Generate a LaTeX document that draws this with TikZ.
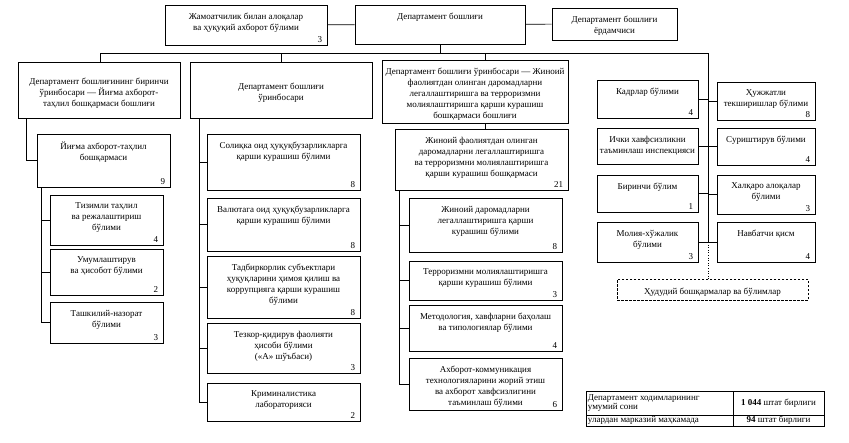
\documentclass[tikz,border=0pt]{standalone}
\usepackage{fontspec}
\setmainfont{Liberation Serif}
\usetikzlibrary{fit}

\begin{document}
\begin{tikzpicture}[x=1pt, y=-1pt, font=\fontsize{9}{11}\selectfont,
            box/.style={draw, line width=0.7pt, inner sep=0pt, align=center},
            unit/.style 2 args={box,
                label={[anchor=north, align=center, inner sep=0pt, yshift=-8pt]north:{#1}},
                label={[anchor=south east, inner xsep=5pt, inner ysep=3pt]south east:{#2}}},
            mid/.style={box, label={[align=center, inner sep=0pt, yshift=-3pt]center:{#1}}},
            link/.style={line width=0.6pt},
            region/.style={draw, line width=0.7pt, dash pattern=on 2.5pt off 1.5pt, inner sep=0pt},
            cell/.style={draw, line width=0.6pt, inner sep=0pt}
        ]
            \useasboundingbox (0,0) rectangle (849,442);

            % Top row
            \node[unit={Жамоатчилик билан алоқалар\\ва ҳуқуқий ахборот бўлими}{3}, fit={(165,5) (327,45)}] (pr) {};
            \node[unit={Департамент бошлиғи}{}, fit={(355,5) (525,44)}] (head) {};
            \node[unit={Департамент бошлиғи\\ёрдамчиси}{}, fit={(552,8) (677,40)}] (asst) {};

            % Deputies
            \node[mid={Департамент бошлиғининг биринчи\\ўринбосари — Йиғма ахборот-\\таҳлил бошқармаси бошлиғи}, fit={(18,62) (180,118)}] (dep1) {};
            \node[mid={Департамент бошлиғи\\ўринбосари}, fit={(190,62) (372,118)}] (dep2) {};
            \node[mid={Департамент бошлиғи ўринбосари — Жиноий\\фаолиятдан олинган даромадларни\\легаллаштиришга ва терроризмни\\молиялаштиришга қарши курашиш\\бошқармаси бошлиғи}, fit={(382,60) (568,123)}] (dep3) {};

            % First deputy units
            \node[unit={Йиғма ахборот-таҳлил\\бошқармаси}{9}, fit={(37,134) (170,187)}] (yigma) {};
            \node[unit={Тизимли таҳлил\\ва режалаштириш\\бўлими}{4}, fit={(50,195) (163,245)}] (tizim) {};
            \node[unit={Умумлаштирув\\ва ҳисобот бўлими}{2}, fit={(50,249) (163,295)}] (umum) {};
            \node[unit={Ташкилий-назорат\\бўлими}{3}, fit={(50,302) (163,343)}] (tash) {};

            % Second deputy units
            \node[unit={Солиқка оид ҳуқуқбузарликларга\\қарши курашиш бўлими}{8}, fit={(207,134) (360,190)}] (soliq) {};
            \node[unit={Валютага оид ҳуқуқбузарликларга\\қарши курашиш бўлими}{8}, fit={(207,198) (360,251)}] (valyuta) {};
            \node[unit={Тадбиркорлик субъектлари\\ҳуқуқларини ҳимоя қилиш ва\\коррупцияга қарши курашиш\\бўлими}{8}, fit={(207,256) (360,318)}] (tadbir) {};
            \node[unit={Тезкор-қидирув фаолияти\\ҳисоби бўлими\\(«А» шўъбаси)}{3}, fit={(207,323) (360,373)}] (tezkor) {};
            \node[unit={Криминалистика\\лабораторияси}{2}, fit={(207,383) (360,421)}] (krim) {};

            % Third deputy units
            \node[unit={Жиноий фаолиятдан олинган\\даромадларни легаллаштиришга\\ва терроризмни молиялаштиришга\\қарши курашиш бошқармаси}{21}, fit={(395,129) (568,190)}] (jinoiy) {};
            \node[unit={Жиноий даромадларни\\легаллаштиришга қарши\\курашиш бўлими}{8}, fit={(409,198) (562,252)}] (jdar) {};
            \node[unit={Терроризмни молиялаштиришга\\қарши курашиш бўлими}{3}, fit={(409,261) (562,300)}] (terror) {};
            \node[unit={Методология, хавфларни баҳолаш\\ва типологиялар бўлими}{4}, fit={(409,305) (562,351)}] (metod) {};
            \node[unit={Ахборот-коммуникация\\технологияларини жорий этиш\\ва ахборот хавфсизлигини\\таъминлаш бўлими}{6}, fit={(409,358) (562,410)}] (axborot) {};

            % Head's own units
            \node[unit={Кадрлар бўлими}{4}, fit={(597,80) (698,118)}] (kadr) {};
            \node[unit={Ички хавфсизликни\\таъминлаш инспекцияси}{}, fit={(597,128) (698,164)}] (ichki) {};
            \node[unit={Биринчи бўлим}{1}, fit={(597,175) (698,212)}] (birinchi) {};
            \node[unit={Молия-хўжалик\\бўлими}{3}, fit={(597,222) (698,262)}] (moliya) {};
            \node[unit={Ҳужжатли\\текширишлар бўлими}{8}, fit={(717,82) (815,120)}] (hujjat) {};
            \node[unit={Суриштирув бўлими}{4}, fit={(717,128) (815,165)}] (surish) {};
            \node[unit={Халқаро алоқалар\\бўлими}{3}, fit={(717,175) (815,214)}] (xalqaro) {};
            \node[unit={Навбатчи қисм}{4}, fit={(717,222) (815,262)}] (navbat) {};
            \node[region, mid={Ҳудудий бошқармалар ва бўлимлар}, fit={(617,279) (808,300)}] (hudud) {};

            % Staff table
            \node[cell, fit={(586,391) (733,415)}, label={[anchor=west, align=left, inner sep=2pt, font=\fontsize{9}{8.5}\selectfont]west:{Департамент ходимларининг\\умумий сони}}] (c11) {};
            \node[cell, fit={(733,391) (824,415)}, label={[inner sep=0pt]center:{\textbf{1 044} штат бирлиги}}] (c12) {};
            \node[cell, fit={(586,415) (733,426)}, label={[anchor=west, inner sep=2pt]west:{улардан марказий маҳкамада}}] (c21) {};
            \node[cell, fit={(733,415) (824,426)}, label={[inner sep=0pt]center:{\textbf{94} штат бирлиги}}] (c22) {};

            % Connections
            \coordinate (busL) at (100,53);
            \coordinate (busR) at (708,53);
            \coordinate (bus3) at (485,53);
            \draw[link] (pr) -- (head);
            \draw[link] (head) -- (asst);
            \draw[link] (head.south) -- (head.south |- busL);
            \draw[link] (busL) -- (busR);
            \draw[link] (busL) -- (dep1.north -| busL);
            \draw[link] (dep2.north) -- (dep2.north |- busL);
            \draw[link] (bus3) -- (dep3.north -| bus3);
            \draw[link] (dep3.south -| bus3) -- (jinoiy.north -| bus3);

            \draw[link] ([xshift=9pt]dep1.south west) |- (yigma.west);
            \foreach \n in {tizim,umum,tash}
                \draw[link] ([xshift=5pt]yigma.south west) |- (\n.west);

            \foreach \n in {soliq,valyuta,tadbir,tezkor,krim}
                \draw[link] ([xshift=10pt]dep2.south west) |- (\n.west);

            \foreach \n in {jdar,terror,metod,axborot}
                \draw[link] ([xshift=5pt]jinoiy.south west) |- (\n.west);

            \draw[link] (busR) -- (busR |- moliya.east);
            \foreach \n in {kadr,ichki,birinchi,moliya}
                \draw[link] (\n.east) -- (\n.east -| busR);
            \foreach \n in {hujjat,surish,xalqaro,navbat}
                \draw[link] (\n.west) -- (\n.west -| busR);
            \draw[link, dotted] (busR |- moliya.east) -- (busR |- hudud.north);
        \end{tikzpicture}
\end{document}
